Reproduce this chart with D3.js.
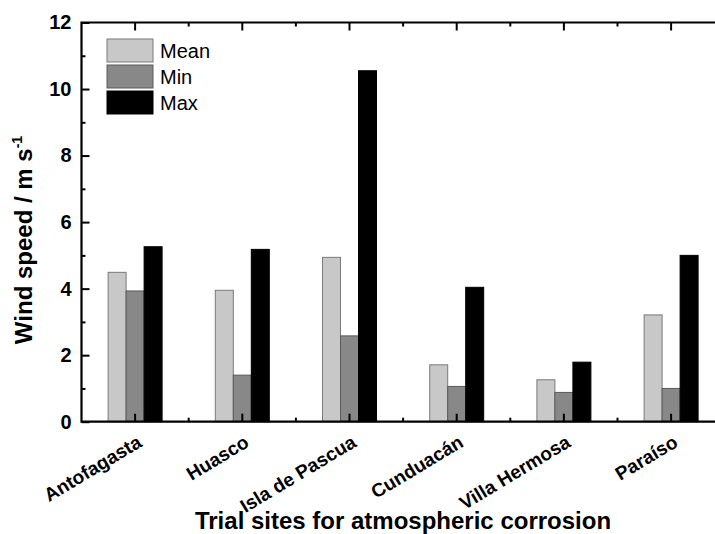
<!DOCTYPE html>
<html><head><meta charset="utf-8">
<script src="https://cdn.jsdelivr.net/npm/d3@7"></script>
<style>
body{margin:0;background:#fff;}
svg{display:block;font-family:"Liberation Sans",Arial,sans-serif;}
</style></head>
<body>
<svg id="chart" width="715" height="534"></svg>
<script>
const categories = ["Antofagasta","Huasco","Isla de Pascua","Cunduacán","Villa Hermosa","Paraíso"];
const series = ["Mean","Min","Max"];
const meanVals = [4.49, 3.95, 4.94, 1.71, 1.26, 3.21];
const minVals  = [3.93, 1.40, 2.58, 1.06, 0.88, 1.00];
const maxVals  = [5.26, 5.18, 10.55, 4.04, 1.79, 5.00];
const yMajorTicks = [0,2,4,6,8,10,12];
const yMinorTicks = [1,3,5,7,9,11];
const colors = {Mean:"#c8c8c8", Min:"#888888", Max:"#000000"};
const strokes = {Mean:"#7a7a7a", Min:"#5a5a5a", Max:"#000000"};
const valuesBySeries = {Mean:meanVals, Min:minVals, Max:maxVals};

const svg = d3.select("#chart");
const pLeft = 81.5, pTop = 22.5, pBottom = 421.7, step = 107.2;
const pRight = pLeft + step*categories.length;

const x0 = d3.scaleBand().domain(categories).range([pLeft, pRight]).padding(0);
const x1 = d3.scaleBand().domain(series).range([-27, 27]).padding(0);
const y = d3.scaleLinear().domain([0,12]).range([pBottom, pTop]);

// bars
const data = [];
categories.forEach((c,i)=>series.forEach(s=>data.push({c, s, v:valuesBySeries[s][i]})));
svg.append("g").selectAll("rect").data(data).join("rect")
  .attr("x", d=>x0(d.c)+x0.bandwidth()/2 + x1(d.s))
  .attr("width", x1.bandwidth())
  .attr("y", d=>y(d.v))
  .attr("height", d=>y(0)-y(d.v))
  .attr("fill", d=>colors[d.s])
  .attr("stroke", d=>strokes[d.s])
  .attr("stroke-width", 1);

const axStyle = g => { g.select(".domain").remove(); g.selectAll("line").attr("stroke","#000").attr("stroke-width",2); };

// left axis
svg.append("g").attr("transform",`translate(${pLeft},0)`)
  .call(d3.axisLeft(y).tickValues(yMajorTicks).tickSize(-8).tickPadding(10).tickFormat(d3.format("d")))
  .call(axStyle)
  .call(g=>g.selectAll("text").attr("font-size",20).attr("font-weight","bold").attr("fill","#000")
       .attr("font-family","'Liberation Sans',Arial,sans-serif"));
svg.append("g").attr("transform",`translate(${pLeft},0)`)
  .call(d3.axisLeft(y).tickValues(yMinorTicks).tickSize(-4).tickFormat(""))
  .call(axStyle);

// bottom axis
svg.append("g").attr("transform",`translate(0,${pBottom})`)
  .call(d3.axisBottom(x0).tickSize(-8).tickPadding(0))
  .call(axStyle)
  .call(g=>g.selectAll("text")
     .attr("font-size",19).attr("font-weight","bold").attr("fill","#000")
     .attr("font-family","'Liberation Sans',Arial,sans-serif")
     .attr("text-anchor","end").attr("dy",null).attr("y",0)
     .attr("transform","translate(8,24) rotate(-31)"));
const boundaries = categories.slice(1);
svg.append("g").selectAll("line").data(boundaries).join("line")
  .attr("x1", d=>x0(d)).attr("x2", d=>x0(d))
  .attr("y1", pBottom).attr("y2", pBottom-4)
  .attr("stroke","#000").attr("stroke-width",2);

// top axis
svg.append("g").attr("transform",`translate(0,${pTop})`)
  .call(d3.axisTop(x0).tickSize(-8).tickFormat(""))
  .call(axStyle);
svg.append("g").selectAll("line").data(boundaries).join("line")
  .attr("x1", d=>x0(d)).attr("x2", d=>x0(d))
  .attr("y1", pTop).attr("y2", pTop+4)
  .attr("stroke","#000").attr("stroke-width",2);

// frame
svg.append("path")
  .attr("d", `M${pRight},${pTop}H${pLeft}V${pBottom}H${pRight}`)
  .attr("fill","none").attr("stroke","#000").attr("stroke-width",2.2);

// legend
const lg = svg.append("g").attr("transform","translate(107,39)");
series.forEach((s,i)=>{
  lg.append("rect").attr("x",0).attr("y",i*26).attr("width",46).attr("height",23)
    .attr("fill",colors[s]).attr("stroke",strokes[s]).attr("stroke-width",1);
  lg.append("text").attr("x",53).attr("y",i*26+19).text(s)
    .attr("font-size",20).attr("fill","#000");
});

// axis titles
svg.append("text").attr("x",403).attr("y",529)
  .attr("text-anchor","middle").attr("font-size",24).attr("font-weight","bold")
  .text("Trial sites for atmospheric corrosion");

const yt = svg.append("text").attr("transform","translate(32,240) rotate(-90)")
  .attr("text-anchor","middle").attr("font-size",24).attr("font-weight","bold");
yt.append("tspan").text("Wind speed / m s");
yt.append("tspan").attr("font-size",14).attr("dy",-10).text("-1");
</script>
</body></html>
